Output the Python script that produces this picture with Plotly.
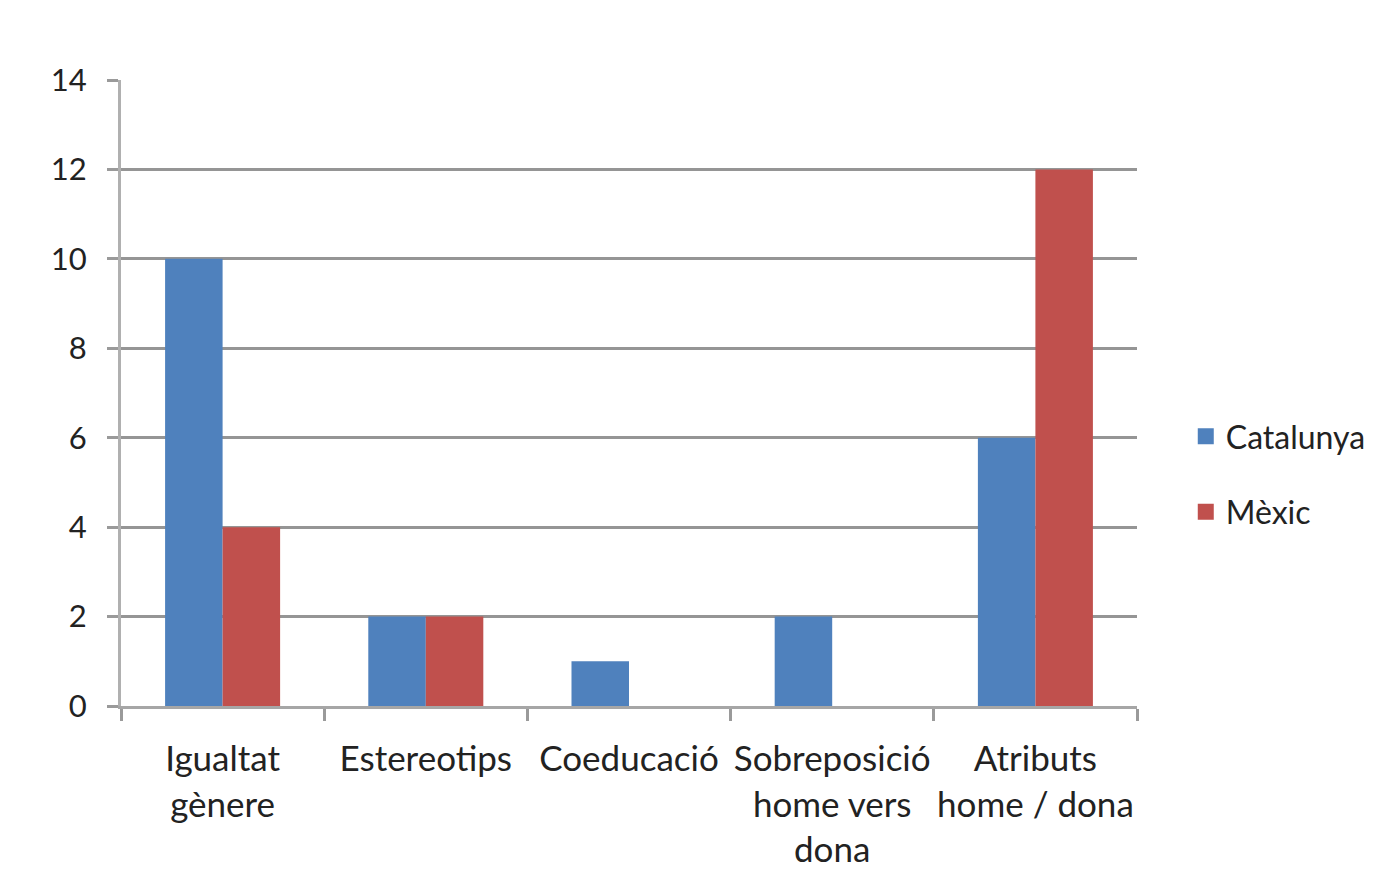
import plotly.graph_objects as go

categories = ["Igualtat<br>gènere", "Estereotips", "Coeducació", "Sobreposició<br>home vers<br>dona", "Atributs<br>home / dona"]
catalunya = [10, 2, 1, 2, 6]
mexic = [4, 2, 0, 0, 12]
y_ticks = [0, 2, 4, 6, 8, 10, 12, 14]
series_names = ["Catalunya", "Mèxic"]
colors = ["#4f81bd", "#c0504d"]

FONT = "Lato, 'Open Sans', sans-serif"
fig = go.Figure()
for name, vals, col in zip(series_names, [catalunya, mexic], colors):
    fig.add_trace(go.Bar(x=categories, y=vals, name=name, marker_color=col,
                         marker_line_width=0, showlegend=False))
for name, col in zip(series_names, colors):
    fig.add_trace(go.Scatter(x=[None], y=[None], mode="markers", name=name, legendgroup=name,
                             marker=dict(symbol="square", size=21, color=col)))

fig.update_layout(
    width=1374, height=882,
    margin=dict(l=113, r=245, t=72, b=184, autoexpand=False),
    paper_bgcolor="white", plot_bgcolor="white",
    barmode="group", bargap=0.434, bargroupgap=0,
    font=dict(family=FONT, size=30, color="#222222"),
    legend=dict(x=1.048, y=0.37, xanchor="left", yanchor="middle",
                font=dict(size=32), tracegroupgap=31, itemwidth=30),
    showlegend=True,
)
fig.update_xaxes(
    showline=True, linecolor="#a6a6a6", linewidth=3,
    ticks="outside", tickson="boundaries", ticklen=12, tickcolor="#9a9a9a", tickwidth=3,
    tickangle=0, tickfont=dict(size=35), ticklabelstandoff=20,
)
fig.update_yaxes(
    range=[0, 14], tickvals=y_ticks, showgrid=True, gridcolor="#959595", gridwidth=3,
    showline=True, linecolor="#b0b0b0", linewidth=3,
    ticks="outside", ticklen=11, tickcolor="#9a9a9a", tickwidth=3,
    tickfont=dict(size=31), zeroline=False, ticklabelstandoff=14,
)
fig.write_html("out.html")
